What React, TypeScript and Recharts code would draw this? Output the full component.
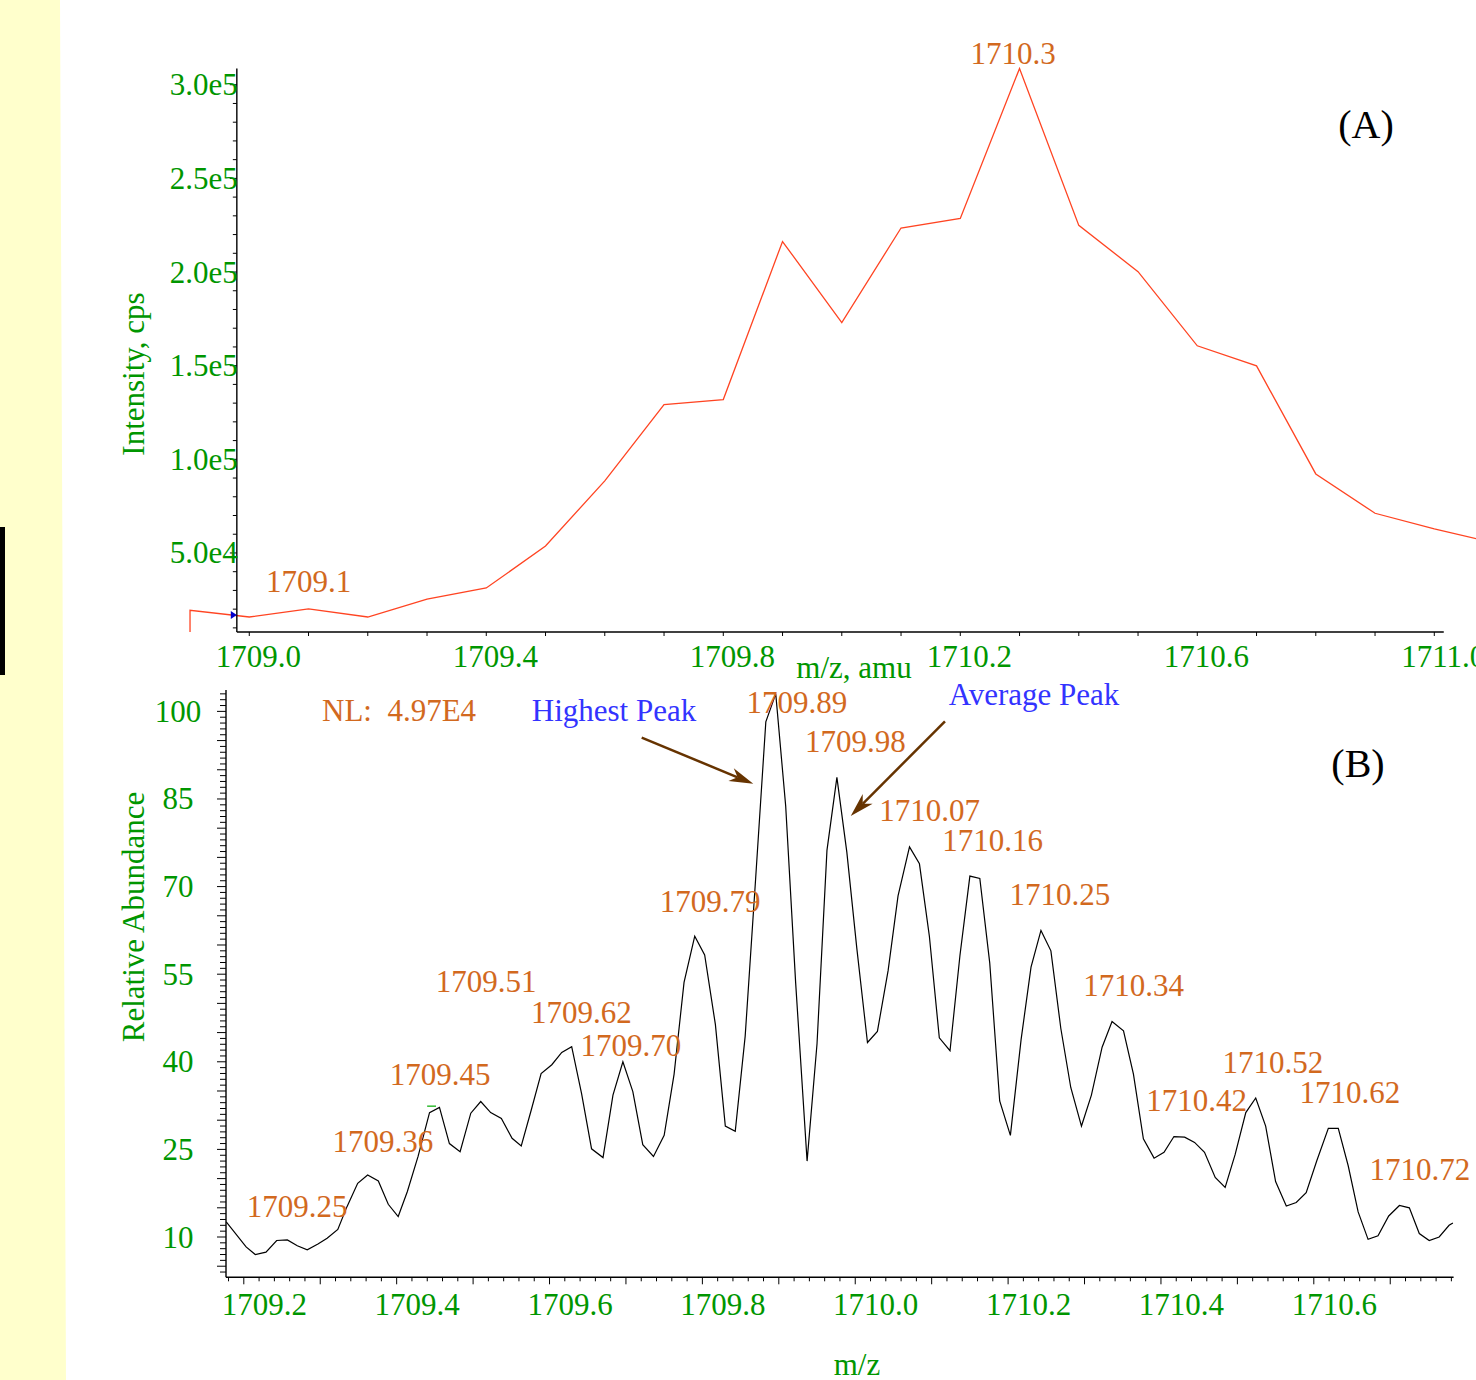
import { LineChart, Line, XAxis, YAxis, ReferenceLine, ReferenceDot } from "recharts";

const FONT = "'Liberation Serif', 'Times New Roman', Times, serif";
const GREEN = "#009600";
const ORANGE = "#D2691E";
const BLUE = "#3333FF";
const BROWN = "#663300";
const TRACE_RED = "#FF4422";

// (A) intensity (cps) vs m/z, one reading every 0.1 amu
const mzA = [
  1708.9, 1708.9, 1709.0, 1709.1, 1709.2, 1709.3, 1709.4, 1709.5, 1709.6, 1709.7, 1709.8, 1709.9,
  1710.0, 1710.1, 1710.2, 1710.3, 1710.4, 1710.5, 1710.6, 1710.7, 1710.8, 1710.9, 1711.0, 1711.1,
];
const intensityA = [
  7800, 19400, 15800, 20100, 15800, 25400, 31300, 53700, 88500, 129200, 131900, 216300,
  173000, 223500, 228600, 308700, 224900, 200200, 160600, 149900, 92200, 71200, 62800, 55500,
];

const xTicksA = Array.from({ length: 21 }, (_, i) => +(1709 + i * 0.1).toFixed(1));
const xLabelsA = ["1709.0", "1709.4", "1709.8", "1710.2", "1710.6", "1711.0"];
const yTicksA = Array.from({ length: 30 }, (_, i) => (i + 1) * 10000);
const yLabelsA: Record<number, string> = {
  50000: "5.0e4",
  100000: "1.0e5",
  150000: "1.5e5",
  200000: "2.0e5",
  250000: "2.5e5",
  300000: "3.0e5",
};

const tagTextA = ["1709.1", "1710.3"];
const tagMzA = [1709.1, 1710.289];
const tagIntensityA = [34900, 316900];

// (B) relative abundance vs m/z
const mzB = [
  1709.177, 1709.203, 1709.215, 1709.229, 1709.243, 1709.257, 1709.27, 1709.283, 1709.297, 1709.309,
  1709.323, 1709.335, 1709.349, 1709.362, 1709.376, 1709.389, 1709.402, 1709.414, 1709.428, 1709.443,
  1709.456, 1709.469, 1709.483, 1709.497, 1709.51, 1709.523, 1709.537, 1709.551, 1709.563, 1709.576,
  1709.589, 1709.603, 1709.616, 1709.629, 1709.642, 1709.655, 1709.67, 1709.683, 1709.696, 1709.709,
  1709.722, 1709.736, 1709.75, 1709.763, 1709.776, 1709.79, 1709.803, 1709.817, 1709.83, 1709.843,
  1709.856, 1709.869, 1709.883, 1709.896, 1709.909, 1709.922, 1709.937, 1709.95, 1709.963, 1709.976,
  1709.989, 1710.002, 1710.016, 1710.029, 1710.043, 1710.056, 1710.071, 1710.084, 1710.097, 1710.11,
  1710.124, 1710.137, 1710.15, 1710.163, 1710.176, 1710.189, 1710.203, 1710.217, 1710.23, 1710.243,
  1710.256, 1710.269, 1710.282, 1710.296, 1710.309, 1710.323, 1710.336, 1710.351, 1710.364, 1710.377,
  1710.391, 1710.404, 1710.417, 1710.431, 1710.444, 1710.457, 1710.471, 1710.484, 1710.497, 1710.511,
  1710.524, 1710.537, 1710.55, 1710.564, 1710.577, 1710.59, 1710.604, 1710.619, 1710.632, 1710.645,
  1710.658, 1710.671, 1710.684, 1710.698, 1710.712, 1710.725, 1710.738, 1710.751, 1710.764, 1710.777,
  1710.782,
];
const abundanceB = [
  12.6, 8.3, 7.0, 7.4, 9.4, 9.5, 8.5, 7.8, 8.8, 9.8,
  11.3, 15.2, 19.2, 20.6, 19.6, 15.6, 13.5, 17.8, 23.8, 31.3,
  32.2, 26.0, 24.6, 31.2, 33.2, 31.3, 30.3, 26.9, 25.6, 31.7,
  38.0, 39.5, 41.6, 42.6, 34.5, 25.1, 23.6, 34.3, 40.0, 34.9,
  25.8, 23.8, 27.4, 37.9, 53.6, 61.5, 58.3, 46.4, 29.0, 28.1,
  44.4, 70.0, 98.2, 103.0, 83.8, 53.6, 23.0, 43.1, 76.2, 88.7,
  75.9, 59.5, 43.3, 45.2, 55.6, 68.4, 76.8, 73.9, 61.5, 44.1,
  41.9, 58.2, 71.8, 71.4, 56.9, 33.3, 27.4, 43.8, 56.2, 62.5,
  59.0, 45.7, 35.6, 29.0, 34.3, 42.5, 46.9, 45.3, 37.9, 26.8,
  23.5, 24.5, 27.2, 27.1, 26.2, 24.5, 20.2, 18.5, 24.1, 31.3,
  33.8, 29.0, 19.5, 15.3, 15.9, 17.6, 23.1, 28.6, 28.6, 22.2,
  14.3, 9.6, 10.2, 13.6, 15.4, 15.0, 10.6, 9.4, 10.0, 12.0,
  12.4,
];

const xTicksB = Array.from({ length: 81 }, (_, i) => +(1709.18 + i * 0.02).toFixed(2));
const xLabelsB = ["1709.2", "1709.4", "1709.6", "1709.8", "1710.0", "1710.2", "1710.4", "1710.6"];
const yTicksB = Array.from({ length: 100 }, (_, i) => i + 4);
const yLabelsB = [10, 25, 40, 55, 70, 85, 100];

const tagTextB = [
  "1709.25", "1709.36", "1709.45", "1709.51", "1709.62", "1709.70", "1709.79", "1709.89", "1709.98",
  "1710.07", "1710.16", "1710.25", "1710.34", "1710.42", "1710.52", "1710.62", "1710.72",
];
const tagMzB = [
  1709.2696, 1709.3821, 1709.4567, 1709.5169, 1709.6418, 1709.7066, 1709.81, 1709.9238, 1710.0003,
  1710.0972, 1710.1796, 1710.2679, 1710.3641, 1710.4468, 1710.5466, 1710.6473, 1710.7389,
];
const tagAbundanceB = [15.3, 26.3, 37.9, 53.7, 48.4, 42.8, 67.5, 101.6, 94.9, 83.0, 77.9, 68.7, 53.0, 33.3, 39.9, 34.7, 21.5];

// arrows: [from, to] in data units
const arrowsB = [
  { from: { x: 1709.7206, y: 95.5 }, to: { x: 1709.8666, y: 87.6 } },
  { from: { x: 1710.1174, y: 98.3 }, to: { x: 1709.9941, y: 82.1 } },
];

// layout
const W = 1476;
const A_H = 700;
const A_X_DOMAIN: [number, number] = [1708.8797, 1711.0704];
const A_Y_DOMAIN: [number, number] = [7800, 310000];
const A_LEFT = 178;
const Y_AXIS_W = 60;
const A_AXIS_X = 1708.979;
const A_AXIS_END = 1711.016;
const A_AXIS_TOP = 308600;
const aPx = (W - A_LEFT) / (A_X_DOMAIN[1] - A_X_DOMAIN[0]);
const aAxisOffset = (A_AXIS_X - A_X_DOMAIN[0]) * aPx;

const B_TOP = 680;
const B_H = 700;
const B_LEFT = 226;
const B_X_DOMAIN: [number, number] = [1709.1767, 1710.7829];
const B_Y_DOMAIN: [number, number] = [3.1, 103.66];

const dataA = mzA.map((m, i) => ({ m, v: intensityA[i] }));
const dataB = mzB.map((m, i) => ({ m, v: abundanceB[i] }));

function XTickA({ x, y, payload }: any) {
  const text = (payload.value as number).toFixed(1);
  return (
    <g>
      <line x1={x} y1={y} x2={x} y2={y + 4} stroke="#000" />
      {xLabelsA.includes(text) && (
        <text x={x + 9} y={y + 35} textAnchor="middle" fill={GREEN} fontSize={31} fontFamily={FONT}>
          {text}
        </text>
      )}
    </g>
  );
}

function YTickA({ x, y, payload }: any) {
  const ax = x + aAxisOffset;
  const label = yLabelsA[payload.value];
  return (
    <g>
      <line x1={ax - (label ? 7 : 4)} y1={y} x2={ax} y2={y} stroke="#000" />
      {label && (
        <text x={ax + 1} y={y} textAnchor="end" dominantBaseline="central" fill={GREEN} fontSize={31} fontFamily={FONT}>
          {label}
        </text>
      )}
    </g>
  );
}

function XTickB({ x, y, payload }: any) {
  const v = payload.value as number;
  const long = Math.round(v * 100) % 10 === 0;
  const text = v.toFixed(1);
  return (
    <g>
      <line x1={x} y1={y} x2={x} y2={y + (long ? 7 : 4)} stroke="#000" />
      {long && xLabelsB.includes(text) && (
        <text x={x + 20.5} y={y + 38} textAnchor="middle" fill={GREEN} fontSize={31} fontFamily={FONT}>
          {text}
        </text>
      )}
    </g>
  );
}

function YTickB({ x, y, payload }: any) {
  const v = payload.value as number;
  const labelled = yLabelsB.includes(v);
  return (
    <g>
      <line x1={x - (v % 5 === 0 ? 9 : 6)} y1={y} x2={x} y2={y} stroke="#000" />
      {labelled && (
        <text x={x - 48} y={y} textAnchor="middle" dominantBaseline="central" fill={GREEN} fontSize={31} fontFamily={FONT}>
          {v}
        </text>
      )}
    </g>
  );
}

const tagShape = (text: string) => (p: any) => (
  <text x={p.cx} y={p.cy} textAnchor="middle" dominantBaseline="central" fill={ORANGE} fontSize={31} fontFamily={FONT}>
    {text}
  </text>
);

function Arrow(props: any) {
  const { x1, y1, x2, y2 } = props;
  const dx = x2 - x1;
  const dy = y2 - y1;
  const len = Math.hypot(dx, dy) || 1;
  const ux = dx / len;
  const uy = dy / len;
  const nx = -uy;
  const ny = ux;
  const L = 24;
  const Wd = 7;
  const N = 17;
  const head = [
    [x2, y2],
    [x2 - L * ux + Wd * nx, y2 - L * uy + Wd * ny],
    [x2 - N * ux, y2 - N * uy],
    [x2 - L * ux - Wd * nx, y2 - L * uy - Wd * ny],
  ]
    .map((p) => p.join(","))
    .join(" ");
  return (
    <g>
      <line x1={x1} y1={y1} x2={x2 - N * ux} y2={y2 - N * uy} stroke={BROWN} strokeWidth={2.5} />
      <polygon points={head} fill={BROWN} />
    </g>
  );
}

const cursorMark = (p: any) => (
  <polygon points={`${p.cx - 6},${p.cy - 4} ${p.cx},${p.cy} ${p.cx - 6},${p.cy + 4}`} fill="#0000CC" />
);

export default function App() {
  return (
    <div style={{ position: "absolute", left: 0, top: 0, width: W, height: 1380, background: "#fff", overflow: "hidden" }}>
      <svg width={W} height={1380} style={{ position: "absolute", left: 0, top: 0 }}>
        <polygon points="0,0 60,0 66,1380 0,1380" fill="#FFFFCC" />
        <rect x={0} y={527} width={5} height={148} fill="#000" />
      </svg>

      <div style={{ position: "absolute", left: 0, top: 0 }}>
        <LineChart width={W} height={A_H} data={dataA} margin={{ top: 66, right: 0, bottom: 28, left: A_LEFT - Y_AXIS_W }}>
          <XAxis
            dataKey="m"
            type="number"
            domain={A_X_DOMAIN}
            allowDataOverflow
            ticks={xTicksA}
            interval={0}
            tick={XTickA}
            tickSize={0}
            tickMargin={0}
            axisLine={false}
            tickLine={false}
            height={40}
          />
          <YAxis
            type="number"
            domain={A_Y_DOMAIN}
            allowDataOverflow
            ticks={yTicksA}
            interval={0}
            tick={YTickA}
            tickSize={0}
            tickMargin={0}
            axisLine={false}
            tickLine={false}
            width={Y_AXIS_W}
          />
          <Line type="linear" dataKey="v" stroke={TRACE_RED} strokeWidth={1.3} dot={false} isAnimationActive={false} />
          <ReferenceLine
            segment={[{ x: A_AXIS_X, y: A_Y_DOMAIN[0] }, { x: A_AXIS_END, y: A_Y_DOMAIN[0] }]}
            stroke="#000"
            strokeWidth={1.6}
            ifOverflow="visible"
          />
          <ReferenceLine
            segment={[{ x: A_AXIS_X, y: A_Y_DOMAIN[0] }, { x: A_AXIS_X, y: A_AXIS_TOP }]}
            stroke="#000"
            strokeWidth={1.4}
            ifOverflow="visible"
          />
          <ReferenceDot x={A_AXIS_X} y={16900} r={0} shape={cursorMark} ifOverflow="visible" />
          {tagTextA.map((t, i) => (
            <ReferenceDot key={t} x={tagMzA[i]} y={tagIntensityA[i]} r={0} shape={tagShape(t)} ifOverflow="visible" />
          ))}
        </LineChart>
      </div>

      <div style={{ position: "absolute", left: 0, top: B_TOP }}>
        <LineChart width={W} height={B_H} data={dataB} margin={{ top: 10, right: 22.4, bottom: 62.7, left: B_LEFT - Y_AXIS_W }}>
          <XAxis
            dataKey="m"
            type="number"
            domain={B_X_DOMAIN}
            allowDataOverflow
            ticks={xTicksB}
            interval={0}
            tick={XTickB}
            tickSize={0}
            tickMargin={0}
            axisLine={{ stroke: "#000", strokeWidth: 1.6 }}
            tickLine={false}
            height={40}
          />
          <YAxis
            type="number"
            domain={B_Y_DOMAIN}
            allowDataOverflow
            ticks={yTicksB}
            interval={0}
            tick={YTickB}
            tickSize={0}
            tickMargin={0}
            axisLine={{ stroke: "#000", strokeWidth: 1.4 }}
            tickLine={false}
            width={Y_AXIS_W}
          />
          <Line type="linear" dataKey="v" stroke="#000" strokeWidth={1.2} dot={false} isAnimationActive={false} />
          <ReferenceLine
            segment={[{ x: 1709.4399, y: 32.4 }, { x: 1709.4515, y: 32.4 }]}
            stroke="#33BB33"
            strokeWidth={1.5}
            ifOverflow="visible"
          />
          {arrowsB.map((a, i) => (
            <ReferenceLine key={i} segment={[a.from, a.to]} shape={Arrow} ifOverflow="visible" />
          ))}
          {tagTextB.map((t, i) => (
            <ReferenceDot key={t} x={tagMzB[i]} y={tagAbundanceB[i]} r={0} shape={tagShape(t)} ifOverflow="visible" />
          ))}
        </LineChart>
      </div>

      <svg width={W} height={1380} style={{ position: "absolute", left: 0, top: 0, pointerEvents: "none" }} fontFamily={FONT}>
        <text x={1366} y={124} textAnchor="middle" dominantBaseline="central" fontSize={40} fill="#000">(A)</text>
        <text x={1358} y={763} textAnchor="middle" dominantBaseline="central" fontSize={40} fill="#000">(B)</text>
        <text
          x={133.5}
          y={374}
          transform="rotate(-90 133.5 374)"
          textAnchor="middle"
          dominantBaseline="central"
          fontSize={31}
          fill={GREEN}
        >
          Intensity, cps
        </text>
        <text
          x={133.5}
          y={917}
          transform="rotate(-90 133.5 917)"
          textAnchor="middle"
          dominantBaseline="central"
          fontSize={31}
          fill={GREEN}
        >
          Relative Abundance
        </text>
        <text x={854} y={667} textAnchor="middle" dominantBaseline="central" fontSize={31} fill={GREEN}>m/z, amu</text>
        <text x={857} y={1364} textAnchor="middle" dominantBaseline="central" fontSize={31} fill={GREEN}>m/z</text>
        <text x={322} y={710} dominantBaseline="central" fontSize={31} fill={ORANGE} style={{ whiteSpace: "pre" }}>
          {"NL:  4.97E4"}
        </text>
        <text x={614} y={710} textAnchor="middle" dominantBaseline="central" fontSize={31} fill={BLUE}>Highest Peak</text>
        <text x={1034} y={694} textAnchor="middle" dominantBaseline="central" fontSize={31} fill={BLUE}>Average Peak</text>
      </svg>
    </div>
  );
}
